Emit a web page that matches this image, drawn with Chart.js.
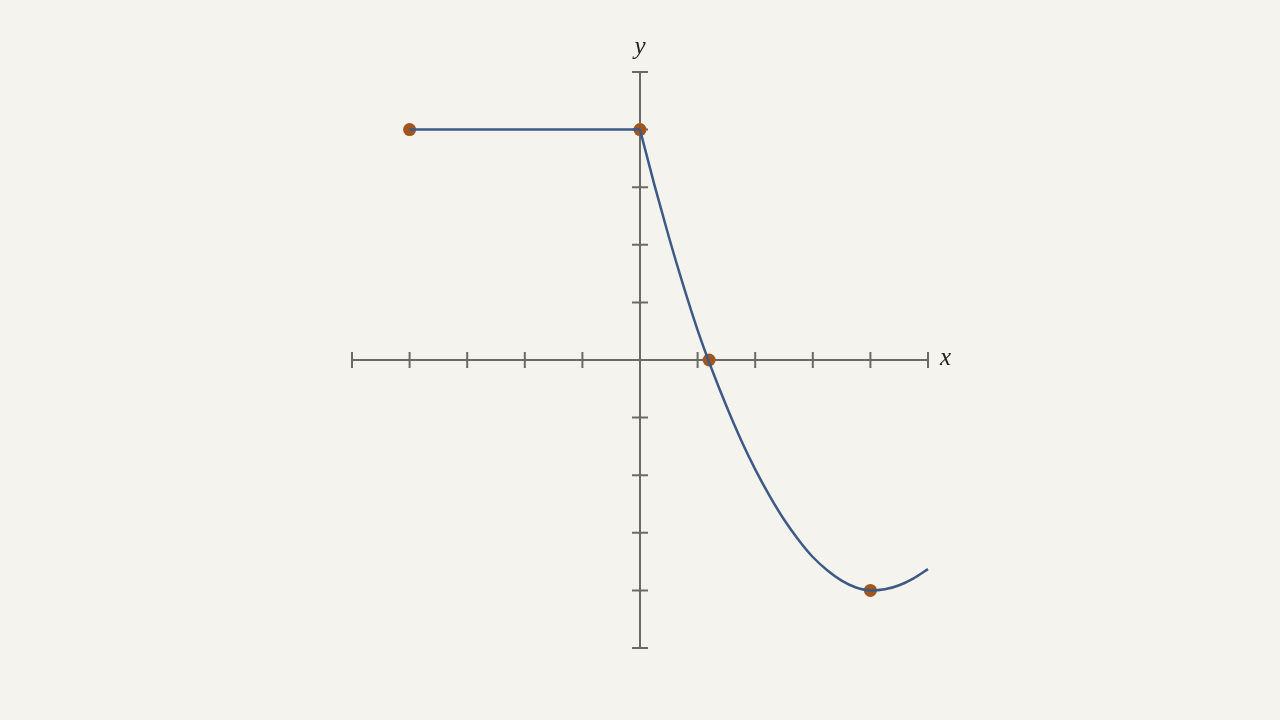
<!DOCTYPE html>
<html>
<head>
<meta charset="utf-8">
<title>Piecewise function</title>
<script src="https://cdn.jsdelivr.net/npm/chart.js@4.4.1/dist/chart.umd.min.js"></script>
<style>
  html, body { margin: 0; padding: 0; background: #f4f3ed; }
  #plot { display: block; }
</style>
</head>
<body>
<canvas id="plot" width="1280" height="720"></canvas>
<script>
// axis range and tick values
const axisMin = -5;
const axisMax = 5;
const tickValues = [-5, -4, -3, -2, -1, 1, 2, 3, 4, 5];

// flat piece, y = 4 for x in [-4, 0]
const flatX = [-4, 0];
const flatY = [4, 4];

// curved piece
const curveX = [0, 0.25, 0.5, 0.75, 1, 1.25, 1.5, 1.75, 2, 2.25, 2.5, 2.75, 3, 3.25, 3.5, 3.75, 4, 4.25, 4.5, 4.75, 5];
const curveY = [4, 3.04, 2.14, 1.3, 0.52, -0.17, -0.8, -1.38, -1.9, -2.36, -2.77, -3.12, -3.42, -3.65, -3.83, -3.95, -4, -3.98, -3.91, -3.79, -3.63];

// marked points
const dotX = [-4, 0, 1.2, 4];
const dotY = [4, 4, 0, -4];

const lineColor = '#3d5a87';
const dotColor = '#a0561f';
const axisColor = '#6b6b66';

function toPoints(xs, ys) {
    return xs.map((x, i) => ({ x: x, y: ys[i] }));
}

// draws the crossing axes with symmetric ticks, plus x / y labels
const axesPlugin = {
    id: 'axes',
    beforeDatasetsDraw(chart) {
        const ctx = chart.ctx;
        const xs = chart.scales.x;
        const ys = chart.scales.y;
        const x0 = xs.getPixelForValue(0);
        const y0 = ys.getPixelForValue(0);
        const tick = 8;

        ctx.save();
        ctx.strokeStyle = axisColor;
        ctx.lineWidth = 2;

        ctx.beginPath();
        ctx.moveTo(xs.getPixelForValue(axisMin), y0);
        ctx.lineTo(xs.getPixelForValue(axisMax), y0);
        ctx.moveTo(x0, ys.getPixelForValue(axisMax));
        ctx.lineTo(x0, ys.getPixelForValue(axisMin));

        tickValues.forEach(v => {
            const px = xs.getPixelForValue(v);
            ctx.moveTo(px, y0 - tick);
            ctx.lineTo(px, y0 + tick);
            const py = ys.getPixelForValue(v);
            ctx.moveTo(x0 - tick, py);
            ctx.lineTo(x0 + tick, py);
        });
        ctx.stroke();

        ctx.fillStyle = '#222';
        ctx.font = 'italic 25px "Liberation Serif", "DejaVu Serif", serif';
        ctx.textBaseline = 'middle';
        ctx.textAlign = 'left';
        ctx.fillText('x', xs.getPixelForValue(axisMax) + 12, y0 - 2);
        ctx.textAlign = 'center';
        ctx.fillText('y', x0, ys.getPixelForValue(axisMax) - 25);
        ctx.restore();
    }
};

const ctx = document.getElementById('plot').getContext('2d');
new Chart(ctx, {
    type: 'scatter',
    data: {
        datasets: [{
            data: toPoints(flatX, flatY),
            showLine: true,
            borderColor: lineColor,
            borderWidth: 2.5,
            pointRadius: 0,
            clip: false
        }, {
            data: toPoints(curveX, curveY),
            showLine: true,
            borderColor: lineColor,
            borderWidth: 2.5,
            pointRadius: 0,
            cubicInterpolationMode: 'monotone',
            clip: false
        }, {
            data: toPoints(dotX, dotY),
            showLine: false,
            pointRadius: 6.5,
            pointBackgroundColor: dotColor,
            pointBorderColor: dotColor,
            pointBorderWidth: 0,
            clip: false
        }]
    },
    options: {
        responsive: false,
        animation: false,
        devicePixelRatio: 1,
        layout: { padding: { left: 352, right: 352, top: 72, bottom: 72 } },
        plugins: {
            legend: { display: false },
            tooltip: { enabled: false }
        },
        scales: {
            x: { type: 'linear', min: axisMin, max: axisMax, display: false },
            y: { type: 'linear', min: axisMin, max: axisMax, display: false }
        }
    },
    plugins: [axesPlugin]
});
</script>
</body>
</html>
